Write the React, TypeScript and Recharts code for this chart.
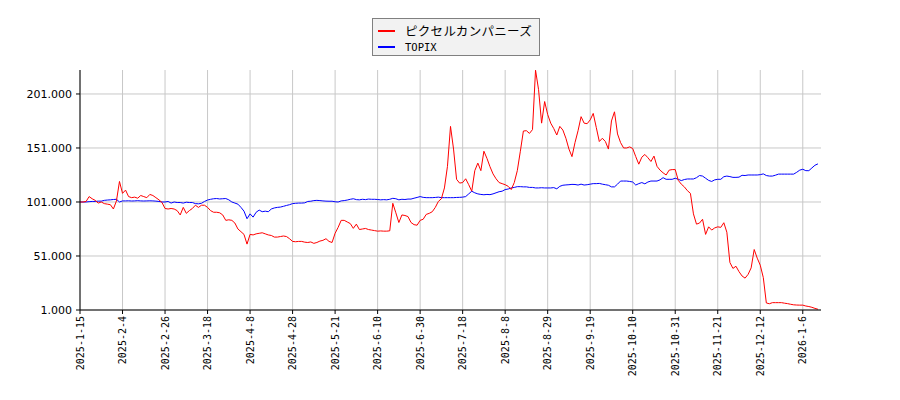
import { CartesianGrid, Line, LineChart, XAxis, YAxis } from "recharts";

// trading-day index ticks (every 14 sessions) and their date labels
const tickIdx = [0, 14, 28, 42, 56, 70, 84, 98, 112, 126, 140, 154, 168, 182, 196, 210, 224, 238];
const tickLabels = [
  "2025-1-15", "2025-2-4", "2025-2-26", "2025-3-18", "2025-4-8", "2025-4-28",
  "2025-5-21", "2025-6-10", "2025-6-30", "2025-7-18", "2025-8-8", "2025-8-29",
  "2025-9-19", "2025-10-10", "2025-10-31", "2025-11-21", "2025-12-12", "2026-1-6",
];
const yTicks = [1, 51, 101, 151, 201];
const xDomain = [0, 244];
const yDomain = [1, 223.2];

// ピクセルカンパニーズ, rebased to 101 at start
const pixel = [
  101, 101, 101.5, 106, 104, 102.5, 100, 101, 99.5, 99,
  98.5, 94.5, 102, 120, 109, 112, 106, 105, 105.5, 104.5,
  107, 106, 105, 108, 107, 105, 103, 100.5, 95, 94.5,
  95, 94.5, 93, 89, 96, 90.5, 93, 95, 98, 96,
  98, 98, 96, 93, 91.5, 91.5, 91, 89, 84, 84.5,
  84, 81.5, 76, 73.5, 71, 62, 71, 70.5, 71.5, 72,
  72.5, 71.5, 70.5, 70, 68.5, 68.5, 69, 69.5, 69, 67,
  64.5, 64.2, 64.5, 64.5, 63.8, 63.5, 64, 62.7, 63.5, 64.8,
  65.5, 67, 64.5, 63.5, 72, 77.5, 84, 84, 82.5, 81,
  76.6, 80.5, 75.5, 76, 76.5, 75.5, 75, 74.5, 74, 74.2,
  74, 74, 74.3, 99.8, 91, 82, 89, 88.5, 87.5, 82,
  80, 79.5, 84, 85, 89.5, 90.5, 92, 96, 101.5, 104,
  114, 134, 171, 150, 122, 118.5, 119, 122.5, 117, 111,
  130, 137, 130, 148, 141.4, 133.7, 127, 122.5, 119, 118,
  117, 115.5, 112.5, 119, 130, 148, 166.7, 167, 164.5, 168,
  223, 205, 174, 194, 182, 174, 169, 163, 171, 167.6,
  160, 150, 143, 156, 167, 180, 174, 173.5, 177, 183,
  170, 157, 160, 157, 150, 176, 184.5, 164, 156, 151,
  151, 152, 150.5, 143, 136, 142.5, 145, 142, 138.5, 143.5,
  134, 130.5, 128, 126, 130.5, 131, 131, 121, 117.5, 115,
  111.5, 109, 90, 80.5, 81.5, 85, 71, 78, 75, 77,
  78, 77.5, 81.8, 73, 45, 39.5, 41.5, 36.5, 32.5, 30.5,
  34, 40, 57, 49, 42.5, 31, 7.5, 6.8, 7.8, 7.8,
  7.8, 7.8, 7.3, 6.9, 6.3, 5.8, 5.6, 5.5, 5.5, 4.7,
  4.2, 3.5, 2.5, 1.7,
];

// TOPIX, rebased to 101 at start
const topix = [
  101, 101, 101, 101.3, 101.5, 101.5, 101.8, 101.8, 102.5, 102.8,
  103, 103.3, 103.5, 101, 102, 102, 102.1, 101.9, 102, 102.2,
  102, 101.9, 102, 102.1, 102, 101.8, 101.5, 101, 101, 101.5,
  100, 101, 100.5, 100.5, 100, 100.8, 100.5, 100.5, 99.5, 99.3,
  99.8, 101.5, 102.8, 103.5, 104, 104.2, 103.8, 104, 104.2, 103,
  101, 100, 99, 96, 92.5, 85.5, 90, 87, 91.5, 93.5,
  92, 92.5, 92, 94.5, 95.5, 96, 96.3, 97, 97.8, 98.5,
  99.5, 99.8, 100, 100, 100.2, 101.5, 101.7, 102.3, 102.5, 102.3,
  102, 101.8, 101.7, 101.7, 101.2, 101, 102, 102.3, 102.8, 103.5,
  104, 103.2, 103, 103.5, 103.2, 103.7, 103.5, 103.5, 103.3, 103,
  103.2, 103, 103.5, 104.4, 104, 103, 103.5, 103.3, 103.7, 103.7,
  104.5, 105.2, 106, 105.3, 105, 105, 105, 105.2, 105.5, 105,
  105, 105, 105, 105, 105.2, 105.3, 105.5, 106, 108.5, 111,
  109.5, 108.5, 108, 107.7, 108, 107.8, 108.5, 109.5, 110.5, 111,
  112.5, 113, 114, 114.5, 115.2, 115.2, 115, 115, 114.5, 114.5,
  114, 114, 114.2, 114, 114, 114, 114.3, 113.2, 115.5, 116.5,
  116.8, 117, 117.3, 117.2, 116.7, 117.5, 116.7, 117, 117.5, 118,
  118, 118.2, 117.5, 117, 116.5, 115, 115, 117.5, 120.4, 120.4,
  120.4, 120, 119.5, 116.7, 118, 119, 117.8, 119.5, 120.4, 120.4,
  120.4, 121.5, 123.5, 122, 122, 122, 123, 122, 120.8, 121.8,
  122.3, 122.3, 122.3, 123.5, 125.5, 125, 123, 121, 120, 121.5,
  122, 122, 124.4, 125, 124.5, 123.8, 123.8, 124, 125.7, 125.5,
  126, 126, 126, 126, 126.3, 127, 125.5, 125, 125, 125.8,
  126.8, 126.8, 126.8, 126.8, 126.8, 126.8, 128.5, 130.5, 131.3, 130,
  130, 132.5, 135, 136.3,
];

const data = pixel.map((v, i) => ({ i, pixel: v, topix: topix[i] }));

// grid only at the tick values, no frame lines at the plot edges
const hLines = ({ yAxis, offset }: any) =>
  yTicks.map((v) =>
    yAxis && typeof yAxis.scale === "function"
      ? yAxis.scale(v)
      : offset.top + offset.height * (1 - (v - yDomain[0]) / (yDomain[1] - yDomain[0]))
  );
const vLines = ({ xAxis, offset }: any) =>
  tickIdx.map((v) =>
    xAxis && typeof xAxis.scale === "function"
      ? xAxis.scale(v)
      : offset.left + (offset.width * (v - xDomain[0])) / (xDomain[1] - xDomain[0])
  );

const XTick = ({ x, y, payload }: any) => {
  const k = tickIdx.indexOf(payload.value);
  return (
    <g transform={`translate(${x},${y})`}>
      <text
        transform="rotate(-90)"
        textAnchor="end"
        dy="0.35em"
        fontFamily="DejaVu Sans Mono"
        fontSize={10}
        fill="#000"
      >
        {tickLabels[k]}
      </text>
    </g>
  );
};

export default function App() {
  return (
    <div style={{ position: "absolute", left: 0, top: 0, width: 900, height: 400, background: "#fff" }}>
      <LineChart
        width={900}
        height={400}
        data={data}
        margin={{ top: 70, right: 79, bottom: 0, left: 0 }}
      >
        <CartesianGrid
          stroke="#c8c8c8"
          horizontalCoordinatesGenerator={hLines}
          verticalCoordinatesGenerator={vLines}
        />
        <XAxis
          dataKey="i"
          type="number"
          domain={xDomain}
          ticks={tickIdx}
          interval={0}
          height={90}
          tickSize={4}
          tickMargin={2}
          stroke="#000"
          tick={<XTick />}
        />
        <YAxis
          type="number"
          domain={yDomain}
          ticks={yTicks}
          interval={0}
          width={80}
          tickSize={4}
          tickMargin={4}
          stroke="#000"
          tickFormatter={(v: number) => `${v}.000`}
          tick={{ fontFamily: "DejaVu Sans", fontSize: 11, fill: "#000" }}
        />
        <Line dataKey="topix" stroke="#0000ff" strokeWidth={1} dot={false} isAnimationActive={false} />
        <Line dataKey="pixel" stroke="#ff0000" strokeWidth={1} dot={false} isAnimationActive={false} />
      </LineChart>
      <div
        style={{
          position: "absolute",
          left: 372,
          top: 18,
          width: 166,
          height: 36,
          border: "1px solid #808080",
          background: "#f2f2f2",
          boxSizing: "content-box",
        }}
      >
        <div style={{ position: "absolute", left: 5, top: 11, width: 17, height: 2, background: "#ff0000" }} />
        <div
          style={{
            position: "absolute",
            left: 32,
            top: 3,
            fontFamily: "Noto Sans CJK JP",
            fontSize: 12.5,
            letterSpacing: 0.3,
            lineHeight: "17px",
            whiteSpace: "nowrap",
          }}
        >
          ピクセルカンパニーズ
        </div>
        <div style={{ position: "absolute", left: 5, top: 27, width: 17, height: 2, background: "#0000ff" }} />
        <div
          style={{
            position: "absolute",
            left: 32,
            top: 20,
            fontFamily: "DejaVu Sans Mono",
            fontSize: 10.5,
            lineHeight: "16px",
          }}
        >
          TOPIX
        </div>
      </div>
    </div>
  );
}
